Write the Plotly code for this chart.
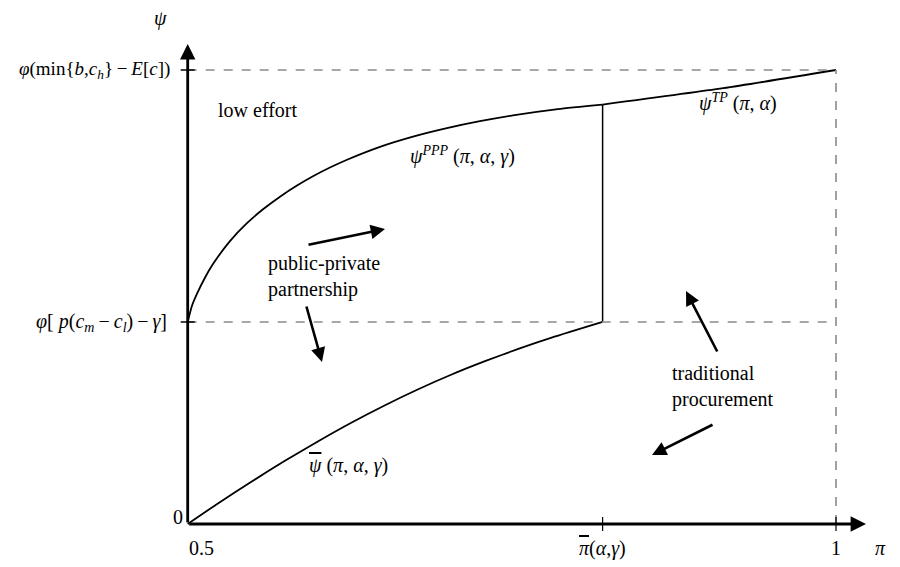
import plotly.graph_objects as go

# ---------------- data ----------------
PI_BAR = 0.82          # threshold pi-bar(alpha, gamma)
PSI_MID = 0.445        # phi[p(c_m - c_l) - gamma]
PSI_TOP = 1.0          # phi(min{b, c_h} - E[c])

pi_ppp = [0.5, 0.5033, 0.5072, 0.5133, 0.5195, 0.5326, 0.5457, 0.5581, 0.5712, 0.5843,
          0.5966, 0.6097, 0.6229, 0.6483, 0.6738, 0.6999, 0.7254, 0.7508, 0.7855, 0.82]
psi_ppp = [0.445, 0.4808, 0.5073, 0.5425, 0.5725, 0.6231, 0.6626, 0.6932, 0.7209, 0.7454,
           0.7659, 0.7852, 0.8024, 0.8308, 0.8533, 0.8720, 0.8872, 0.9000, 0.9139, 0.9238]

pi_tp = [0.82, 0.913, 1.0]
psi_tp = [0.9238, 0.960, 1.0]

pi_low = [0.5, 0.5236, 0.5494, 0.5750, 0.6007, 0.6265, 0.6522, 0.6778, 0.7036, 0.7293, 0.7550, 0.7807, 0.82]
psi_low = [0.0, 0.0458, 0.0936, 0.1392, 0.1824, 0.2236, 0.2617, 0.2969, 0.3293, 0.3586, 0.3857, 0.4104, 0.445]

x_tick_vals = [0.5, PI_BAR, 1.0]
x_tick_text = ["0.5",
               "<span style='text-decoration:overline'><i>π</i></span>(<i>α</i>,<i>γ</i>)",
               "1"]
y_tick_vals = [0.0, PSI_MID, PSI_TOP]
y_tick_text = [
    "0",
    "<i>φ</i>[ <i>p</i>(<i>c</i><sub><i>m</i></sub>\u2009−\u2009<i>c</i><sub><i>l</i></sub>)\u2009−\u2009<i>γ</i>]",
    "<i>φ</i>(min{<i>b</i>,<i>c</i><sub><i>h</i></sub>}\u2009−\u2009<i>E</i>[<i>c</i>])",
]

# ---------------- screen pixel -> data helpers (page body has an 8px margin) ----------------
OFF = 8
W, H = 900 - OFF, 567 - OFF
PX0, PX1 = 187.7, 836.0      # screen x of pi=0.5 and pi=1
PY0, PY1 = 524.0, 70.0       # screen y of psi=0 and psi=1

def dx(px):
    return 0.5 + (px - PX0) / (PX1 - PX0) * 0.5

def dy(py):
    return (PY0 - py) / (PY0 - PY1)

FONT = "Liberation Serif"
FS = 20
BLACK = "#000000"
GRAY = "#8a8a8a"

fig = go.Figure()

line_style = dict(color=BLACK, width=1.8)
for xs, ys in [(pi_ppp, psi_ppp), (pi_tp, psi_tp), (pi_low, psi_low)]:
    fig.add_trace(go.Scatter(x=xs, y=ys, mode="lines",
                             line=dict(shape="spline", smoothing=0.6, **line_style),
                             hoverinfo="skip", showlegend=False))
fig.add_trace(go.Scatter(x=[PI_BAR, PI_BAR], y=[PSI_MID, psi_ppp[-1]], mode="lines",
                         line=dict(color=BLACK, width=1.5), hoverinfo="skip", showlegend=False))

shapes = []
dash = dict(color=GRAY, width=1.6, dash="dash")
shapes.append(dict(type="line", xref="x", yref="y", x0=0.5, x1=1.0, y0=PSI_TOP, y1=PSI_TOP, line=dash))
shapes.append(dict(type="line", xref="x", yref="y", x0=0.5, x1=1.0, y0=PSI_MID, y1=PSI_MID, line=dash))
shapes.append(dict(type="line", xref="x", yref="y", x0=1.0, x1=1.0, y0=0.0, y1=PSI_TOP, line=dash))
for yv in y_tick_vals[1:]:
    shapes.append(dict(type="line", xref="x", yref="y", xsizemode="pixel", xanchor=0.5,
                       x0=-7, x1=7, y0=yv, y1=yv, line=dict(color=BLACK, width=1.5)))
for xv in x_tick_vals[1:]:
    shapes.append(dict(type="line", xref="x", yref="y", ysizemode="pixel", yanchor=0.0,
                       y0=-7, y1=7, x0=xv, x1=xv, line=dict(color=BLACK, width=1.2)))

annotations = []

def arrow(tail_px, tip_px, width=2.6):
    annotations.append(dict(
        x=dx(tip_px[0]), y=dy(tip_px[1]), ax=dx(tail_px[0]), ay=dy(tail_px[1]),
        xref="x", yref="y", axref="x", ayref="y", text="", showarrow=True,
        arrowhead=2, arrowsize=1.1, arrowwidth=width, arrowcolor=BLACK, standoff=0, startstandoff=0))

# axes with arrow heads
arrow((PX0, PY0), (866, PY0), width=2.8)
arrow((PX0, PY0), (PX0, 44), width=2.8)

# region arrows
arrow((307, 245), (385, 229))
arrow((306, 305), (322, 362))
arrow((718, 353), (686, 291))
arrow((714, 424), (652, 455))

def text(s, px, py, xa="center", ya="middle", size=FS):
    annotations.append(dict(x=dx(px), y=dy(py), xref="x", yref="y", text=s, showarrow=False,
                            xanchor=xa, yanchor=ya, align="left",
                            font=dict(family=FONT, size=size, color=BLACK)))

# tick labels
text(x_tick_text[0], 187, 548, xa="left")
text(x_tick_text[1], PX0 + (PI_BAR - 0.5) / 0.5 * (PX1 - PX0), 548)
text(x_tick_text[2], PX1, 548)
text(y_tick_text[0], 185, 517, xa="right")
text(y_tick_text[1], 169, 322, xa="right")
text(y_tick_text[2], 172, 70, xa="right", size=19)

# axis titles
text("<i>ψ</i>", 160, 18)
text("<i>π</i>", 880, 548)

# region / curve labels
text("low effort", 257, 110)
text("<i>ψ</i><sup><i>PPP</i></sup> (<i>π</i>, <i>α</i>, <i>γ</i>)", 462, 155)
text("<i>ψ</i><sup><i>TP</i></sup> (<i>π</i>, <i>α</i>)", 738, 102)
text("<span style='text-decoration:overline'><i>ψ</i></span> (<i>π</i>, <i>α</i>, <i>γ</i>)", 348, 465)
text("public-private<br>partnership", 266, 276, xa="left")
text("traditional<br>procurement", 670, 386, xa="left")

fig.update_layout(
    width=W, height=H, autosize=False,
    margin=dict(l=0, r=0, t=0, b=0),
    paper_bgcolor="white", plot_bgcolor="white",
    xaxis=dict(range=[dx(OFF), dx(900)], visible=False, fixedrange=True),
    yaxis=dict(range=[dy(567), dy(OFF)], visible=False, fixedrange=True),
    shapes=shapes, annotations=annotations, showlegend=False,
)

fig.write_html("out.html")
